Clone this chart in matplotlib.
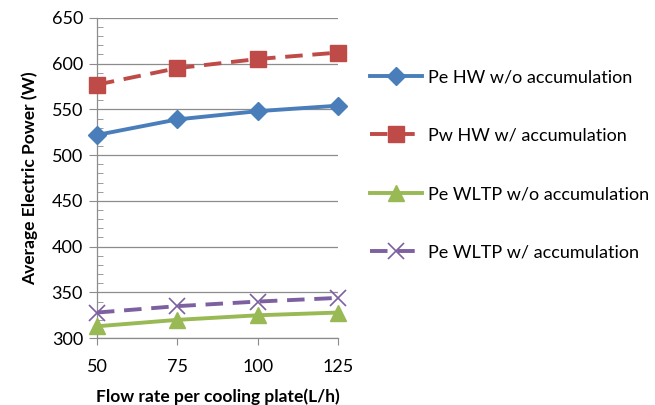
import matplotlib.pyplot as plt
from matplotlib.ticker import MultipleLocator

plt.rcParams['font.family'] = ['Lato', 'DejaVu Sans']

flow = [50, 75, 100, 125]
pe_hw = [522, 539, 548, 554]
pw_hw = [577, 595, 605, 612]
pe_wltp = [313, 320, 325, 328]
pe_wltp_acc = [328, 335, 340, 344]

fig = plt.figure(figsize=(6.55, 4.05), dpi=100)
ax = fig.add_axes([0.148, 0.165, 0.368, 0.791])

lw = 2.8
ax.plot(flow, pe_hw, color='#4A7EBB', lw=lw, marker='D', ms=9.5,
        label='Pe HW w/o accumulation', zorder=5)
ax.plot(flow, pw_hw, color='#BE4B48', lw=lw, ls=(0, (4.5, 2.5)), marker='s', ms=11,
        label='Pw HW w/ accumulation', zorder=5)
ax.plot(flow, pe_wltp, color='#98B954', lw=lw, marker='^', ms=11,
        label='Pe WLTP w/o accumulation', zorder=5)
ax.plot(flow, pe_wltp_acc, color='#7D60A0', lw=lw, ls=(0, (4.5, 2.5)), marker='x', ms=11,
        mew=1.2, label='Pe WLTP w/ accumulation', zorder=5)

ax.set_xlim(50, 125)
ax.set_ylim(300, 650)
ax.set_xticks(flow)
ax.yaxis.set_major_locator(MultipleLocator(50))
ax.yaxis.set_minor_locator(MultipleLocator(10))
ax.grid(axis='y', which='major', color='#8C8C8C', lw=0.9)
for s in ['top', 'right']:
    ax.spines[s].set_visible(False)
for s in ['left', 'bottom']:
    ax.spines[s].set_color('#8C8C8C')
    ax.spines[s].set_linewidth(0.9)
ax.tick_params(axis='y', which='major', length=6, color='#8C8C8C', labelsize=13, pad=4)
ax.tick_params(axis='y', which='minor', direction='in', length=4, color='#8C8C8C')
ax.tick_params(axis='x', length=5, color='#8C8C8C', labelsize=13, pad=10)
for ln in ax.lines:
    ln.set_clip_on(False)

ax.set_xlabel('Flow rate per cooling plate(L/h)', fontsize=12.5, fontweight='bold', labelpad=10)
ax.set_ylabel('Average Electric Power (W)', fontsize=12.5, fontweight='bold', labelpad=10)

fig.legend(loc='upper left', bbox_to_anchor=(0.554, 0.847), frameon=False, fontsize=13,
           handlelength=2.9, handletextpad=0.3, labelspacing=2.35, borderaxespad=0)

fig.savefig('out.png', dpi=100)
